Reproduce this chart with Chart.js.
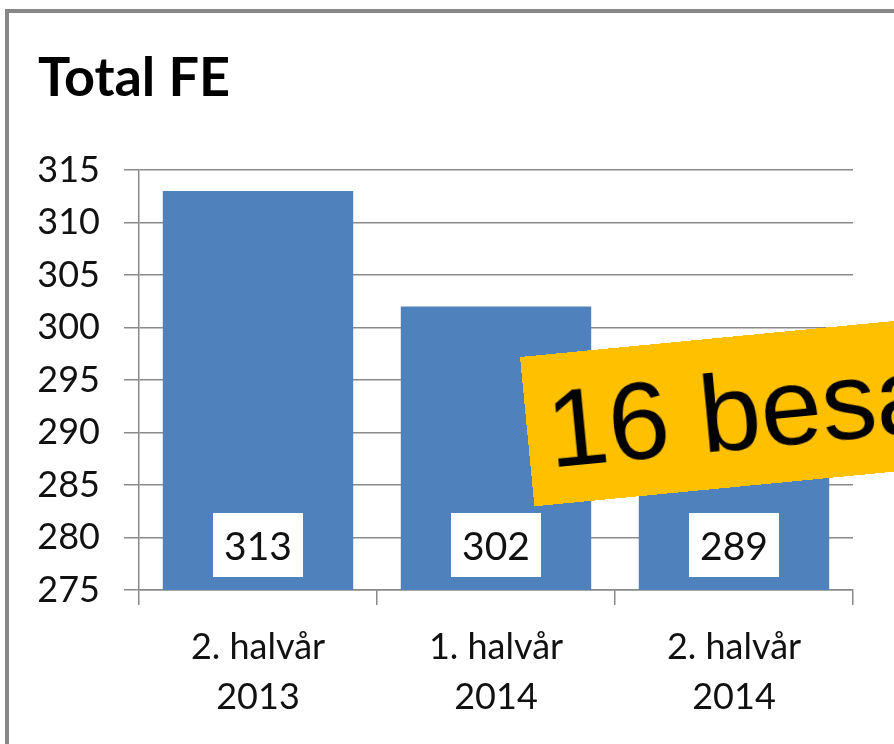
<!DOCTYPE html>
<html>
<head>
<meta charset="utf-8">
<script src="https://cdn.jsdelivr.net/npm/chart.js@4.4.1/dist/chart.umd.min.js"></script>
<style>
  html, body { margin: 0; padding: 0; width: 894px; height: 744px; overflow: hidden; background: #fff; }
  #frame { position: absolute; left: 5px; top: 9px; width: 1000px; height: 1000px; border: 4px solid #878787; box-sizing: border-box; }
  #title { position: absolute; left: 38px; top: 43px; font: bold 54px Lato, sans-serif; color: #000; }
  #wrap { position: absolute; left: 0; top: 0; width: 894px; height: 744px; }
  #banner {
    position: absolute; left: 520px; top: 357px; width: 700px; height: 150px;
    background: #FFC000; transform-origin: 0 0; transform: rotate(-5.5deg);
    font: 110px "Liberation Sans", Arial, sans-serif; color: #000;
    line-height: 150px; padding-left: 20px; box-sizing: border-box; white-space: nowrap;
  }
  #banner span { position: relative; top: 0px; }
</style>
</head>
<body>
<div id="frame"></div>
<div id="title">Total FE</div>
<div id="wrap"><canvas id="chart" width="894" height="744"></canvas></div>
<div id="banner"><span>16 besætninger</span></div>
<script>
// ─── Data ────────────────────────────────────────────────────────────────────
const categories = [['2. halvår', '2013'], ['1. halvår', '2014'], ['2. halvår', '2014']];
const totalFE = [313, 302, 289];
const yMin = 275, yMax = 315, yStep = 5;

const gridColor = '#8a8a8a';
const font = 'Lato, sans-serif';

// white value boxes at the foot of each bar
const valueBoxes = {
  id: 'valueBoxes',
  afterDraw(chart) {
    const ctx = chart.ctx;
    const meta = chart.getDatasetMeta(0);
    const base = chart.scales.y.getPixelForValue(yMin);
    ctx.save();
    meta.data.forEach((bar, i) => {
      const w = 90, h = 64;
      const x = bar.x - w / 2;
      const y = base - 13 - h;
      ctx.fillStyle = '#ffffff';
      ctx.fillRect(x, y, w, h);
      ctx.fillStyle = '#111111';
      ctx.font = '39px ' + font;
      ctx.textAlign = 'center';
      ctx.textBaseline = 'middle';
      ctx.fillText(String(totalFE[i]), bar.x, y + h / 2 + 2);
    });
    ctx.restore();
  },
};

new Chart(document.getElementById('chart'), {
  type: 'bar',
  data: {
    labels: categories,
    datasets: [{
      data: totalFE,
      backgroundColor: '#4F81BD',
      borderWidth: 0,
      barPercentage: 0.8,
      categoryPercentage: 1,
    }],
  },
  options: {
    responsive: false,
    animation: false,
    layout: { padding: { left: 38, top: 170, right: 41, bottom: 0 } },
    plugins: { legend: { display: false }, tooltip: { enabled: false } },
    scales: {
      x: {
        offset: true,
        grid: { offset: true, drawOnChartArea: false, drawTicks: true, tickLength: 15, color: gridColor, lineWidth: 1.5 },
        border: { display: true, color: gridColor, width: 1.5 },
        ticks: { color: '#111', font: { family: font, size: 36, lineHeight: 1.39 }, padding: 17, maxRotation: 0 },
        afterFit(scale) { scale.height = 154; },
      },
      y: {
        min: yMin,
        max: yMax,
        grid: { tickLength: 15, color: gridColor, lineWidth: 1.5 },
        border: { display: true, color: gridColor, width: 1.5 },
        ticks: { stepSize: yStep, color: '#111', font: { family: font, size: 36 }, padding: 24 },
        afterFit(scale) { scale.width = 101; },
      },
    },
  },
  plugins: [valueBoxes],
});
</script>
</body>
</html>
